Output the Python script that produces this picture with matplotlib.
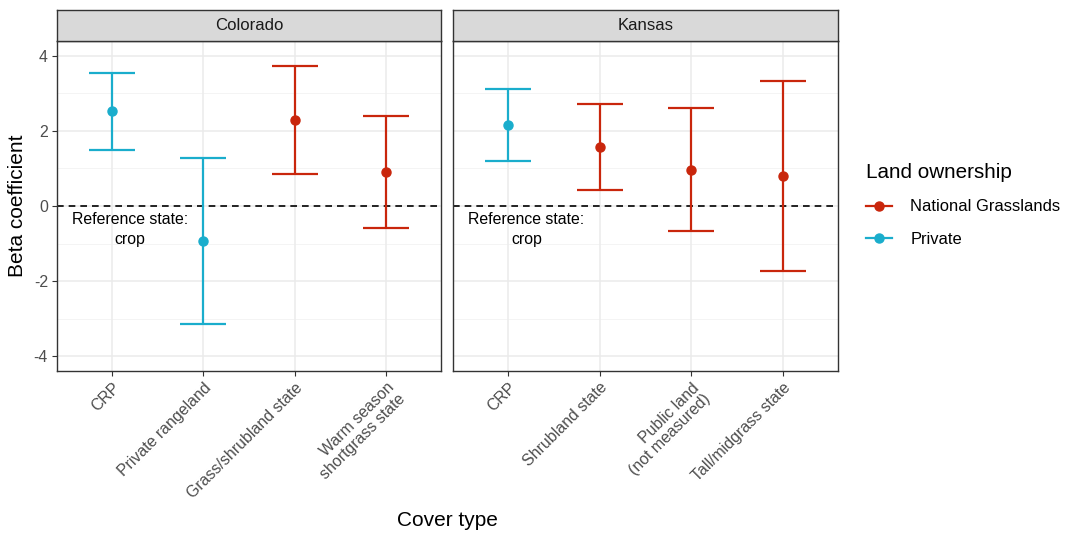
import matplotlib
matplotlib.use("Agg")
import matplotlib.pyplot as plt
from matplotlib.lines import Line2D

plt.rcParams['font.family'] = ['Liberation Sans', 'DejaVu Sans']

# ---- data ----
states = ["Colorado", "Kansas"]
co_labels = ["CRP", "Private rangeland", "Grass/shrubland state", "Warm season\nshortgrass state"]
co_owner = ["Private", "Private", "National Grasslands", "National Grasslands"]
co_mean = [2.53, -0.92, 2.28, 0.90]
co_low = [1.50, -3.13, 0.85, -0.58]
co_high = [3.55, 1.28, 3.72, 2.39]

ks_labels = ["CRP", "Shrubland state", "Public land\n(not measured)", "Tall/midgrass state"]
ks_owner = ["Private", "National Grasslands", "National Grasslands", "National Grasslands"]
ks_mean = [2.15, 1.58, 0.97, 0.80]
ks_low = [1.19, 0.42, -0.66, -1.73]
ks_high = [3.12, 2.72, 2.62, 3.33]

owner_colors = {"National Grasslands": "#C9260C", "Private": "#1AADCC"}
y_ticks = [-4, -2, 0, 2, 4]
y_minor = [-3, -1, 1, 3]

W, H = 1072, 536
fig = plt.figure(figsize=(W / 100, H / 100), dpi=100)

def fx(px):
    return px / W

def fy(py):
    return 1 - py / H

panels = [
    (57, 441, co_labels, co_owner, co_mean, co_low, co_high, states[0]),
    (453, 838, ks_labels, ks_owner, ks_mean, ks_low, ks_high, states[1]),
]
ptop, pbot, stop = 41, 371, 10
border = "#333333"
tick_fs = 11.4

for i, (x0, x1, labels, owner, mean, low, high, title) in enumerate(panels):
    ax = fig.add_axes([fx(x0), fy(pbot), fx(x1) - fx(x0), fy(ptop) - fy(pbot)])
    n = len(labels)
    xs = list(range(1, n + 1))
    ax.set_xlim(0.4, n + 0.6)
    ax.set_ylim(-4.39, 4.39)
    ax.set_facecolor("white")
    for y in y_ticks:
        ax.axhline(y, color="#EBEBEB", lw=1.1, zorder=0)
    for y in y_minor:
        ax.axhline(y, color="#F2F2F2", lw=0.6, zorder=0)
    for x in xs:
        ax.axvline(x, color="#EBEBEB", lw=1.1, zorder=0)
    ax.axhline(0, color="black", lw=1.2, ls=(0, (4, 3)), zorder=1)
    for x, o, m, lo, hi in zip(xs, owner, mean, low, high):
        c = owner_colors[o]
        ax.plot([x, x], [lo, hi], color=c, lw=1.6, zorder=2, solid_capstyle="butt")
        ax.plot([x - 0.25, x + 0.25], [lo, lo], color=c, lw=1.6, zorder=2, solid_capstyle="butt")
        ax.plot([x - 0.25, x + 0.25], [hi, hi], color=c, lw=1.6, zorder=2, solid_capstyle="butt")
        ax.plot([x], [m], marker="o", color=c, ms=6.5, zorder=3)
    ax.text(1.2, -0.62, "Reference state:\ncrop", ha="center", va="center",
            fontsize=11.4, color="black", linespacing=1.45)
    ax.set_xticks(xs)
    ax.set_xticklabels(labels, rotation=45, ha="right", va="top",
                       rotation_mode="anchor", fontsize=tick_fs, color="#4D4D4D",
                       multialignment="right", linespacing=1.1)
    ax.set_yticks(y_ticks)
    ax.set_yticks([], minor=True)
    if i == 0:
        ax.set_yticklabels([str(v) for v in y_ticks], fontsize=tick_fs, color="#4D4D4D")
        ax.tick_params(axis="y", length=3.5, width=0.8, color=border, pad=3)
    else:
        ax.tick_params(axis="y", left=False, labelleft=False)
    ax.tick_params(axis="x", length=3.5, width=0.8, color=border, pad=3)
    for s in ax.spines.values():
        s.set_color(border)
        s.set_linewidth(1.0)
    # strip
    sax = fig.add_axes([fx(x0), fy(ptop), fx(x1) - fx(x0), fy(stop) - fy(ptop)])
    sax.set_facecolor("#D9D9D9")
    sax.set_xticks([])
    sax.set_yticks([])
    for s in sax.spines.values():
        s.set_color(border)
        s.set_linewidth(1.0)
    sax.text(0.5, 0.5, title, transform=sax.transAxes, ha="center", va="center",
             fontsize=12.1, color="#1A1A1A")

fig.text(fx(18), fy(206), "Beta coefficient", rotation=90, ha="center", va="center",
         fontsize=15, color="black")
fig.text(fx(447), fy(521), "Cover type", ha="center", va="center",
         fontsize=15, color="black")

# legend
handles = [Line2D([0], [0], color=owner_colors[k], lw=1.6, marker="o", ms=6.5)
           for k in ["National Grasslands", "Private"]]
leg = fig.legend(handles, ["National Grasslands", "Private"], title="Land ownership",
                 loc="upper left", bbox_to_anchor=(fx(866), fy(163)), frameon=False,
                 fontsize=11.85, title_fontsize=14.9, handlelength=1.6,
                 labelspacing=1.05, handletextpad=1.1, borderaxespad=0, borderpad=0)
leg._legend_box.align = "left"

fig.savefig("out.png", dpi=100, facecolor="white")
